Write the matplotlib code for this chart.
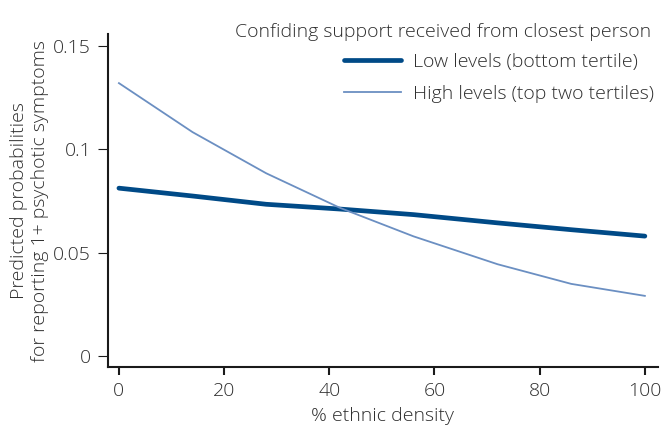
import matplotlib
matplotlib.use("Agg")
import matplotlib.pyplot as plt
from matplotlib.lines import Line2D

# Data
density = [0, 14, 28, 42, 56, 72, 86, 100]
low_levels = [0.0813, 0.0775, 0.0735, 0.0712, 0.0685, 0.0645, 0.0612, 0.0581]
high_levels = [0.1321, 0.1084, 0.0885, 0.0718, 0.0580, 0.0445, 0.0350, 0.0292]
series_labels = ["Low levels (bottom tertile)", "High levels (top two tertiles)"]
legend_title = "Confiding support received from closest person"
xticks = [0, 20, 40, 60, 80, 100]
yticks = [0, 0.05, 0.1, 0.15]
ytick_labels = ["0", "0.05", "0.1", "0.15"]

plt.rcParams["font.family"] = ["Open Sans", "DejaVu Sans"]
plt.rcParams["font.weight"] = "light"
plt.rcParams["axes.labelweight"] = "light"
txt = "#2e2e2e"
c_low = "#004a87"
c_high = "#6b8fc2"
fs = 14

fig = plt.figure(figsize=(6.66, 4.32), dpi=100)
ax = fig.add_axes([0.162, 0.150, 0.826, 0.771])

ax.plot(density, low_levels, color=c_low, lw=3.4, solid_capstyle="round")
ax.plot(density, high_levels, color=c_high, lw=1.3)

ax.set_xlim(-2.1, 102.5)
ax.set_ylim(-0.0053, 0.1558)
ax.set_xticks(xticks)
ax.set_xticklabels([str(v) for v in xticks])
ax.set_yticks(yticks)
ax.set_yticklabels(ytick_labels)

for s in ["top", "right"]:
    ax.spines[s].set_visible(False)
for s in ["left", "bottom"]:
    ax.spines[s].set_linewidth(1.5)
    ax.spines[s].set_color("#1a1a1a")

ax.tick_params(axis="x", length=6, width=1.5, color="#1a1a1a", pad=5,
               labelsize=fs, labelcolor=txt)
ax.tick_params(axis="y", length=7, width=0.8, color="#1a1a1a", pad=5,
               labelsize=fs, labelcolor=txt)

ax.set_xlabel("% ethnic density", fontsize=fs, color=txt, labelpad=5,
              fontweight="light")
ax.set_ylabel("Predicted probabilities\nfor reporting 1+ psychotic symptoms",
              fontsize=fs, color=txt, labelpad=3, linespacing=1.25,
              fontweight="light")

fig.text(0.353, 0.926, legend_title, fontsize=fs, color=txt,
         ha="left", va="center", fontweight="light")
handles = [Line2D([0], [0], color=c_low, lw=3.4, solid_capstyle="round"),
           Line2D([0], [0], color=c_high, lw=1.3)]
leg = fig.legend(handles, series_labels, loc="upper right",
                 bbox_to_anchor=(1.0, 0.905), frameon=False, fontsize=fs,
                 handlelength=2.9, handletextpad=0.65, labelspacing=0.75,
                 borderaxespad=0.2)
for t in leg.get_texts():
    t.set_color(txt)

fig.savefig("out.png", dpi=100)
